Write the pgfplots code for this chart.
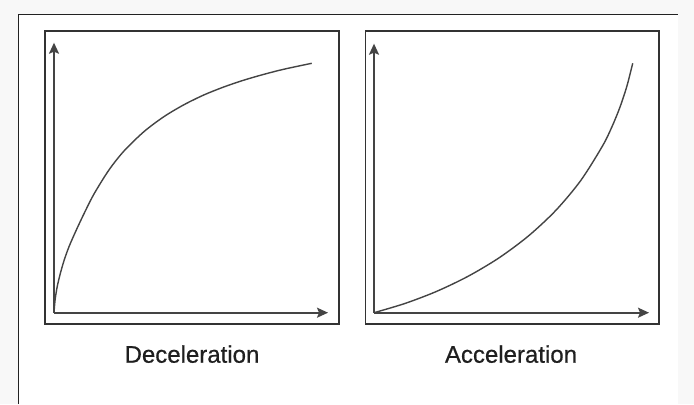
\documentclass[border=0pt]{standalone}
\usepackage{pgfplots}
\pgfplotsset{compat=1.18}
\usepackage{fontspec}
\setmainfont{Liberation Sans}
\newfontfamily\lblfont{Liberation Sans}[FakeBold=0.6]
\usetikzlibrary{arrows.meta}
\definecolor{bg}{HTML}{F8F8F8}
\definecolor{frame}{HTML}{222222}
\definecolor{boxc}{HTML}{333333}
\definecolor{axc}{HTML}{444444}
\definecolor{curvec}{HTML}{444444}
\pgfplotstableread{
x y
0 0
1 12
3 25
6 38
10 52
15 66
22 82
30 99
40 118.7
55 142.8
70 161.7
90 181.1
110 196.1
130 208.0
150 217.8
170 225.8
190 232.6
210 238.4
230 243.5
257.7 249.4
}\decel
\pgfplotstableread{
x y
0 0
30.63 9.13
62.07 21.1
93.61 36.16
124.56 54.55
154.2 76.55
181.88 102.4
206.86 132.35
228.45 166.67
237.76 185.54
245.97 205.6
252.97 226.88
258.7 249.4
}\accel
\pgfplotsset{
  sketch/.style={
    scale only axis,
    anchor=south west,
    axis lines=left,
    xmin=0, ymin=0,
    xtick=\empty, ytick=\empty,
    clip=false,
    axis line style={draw=axc, line width=1.6bp, -{Stealth[length=11bp,width=10bp,inset=2bp]}},
  }
}
\begin{document}
\begin{tikzpicture}[x=1bp,y=1bp]
\useasboundingbox (0,0) rectangle (694,404);
\fill[bg] (0,0) rectangle (694,404);
\fill[white] (18.3,0) rectangle (677.7,389.7);
\draw[frame, line width=1.5bp] (18.3,0) -- (18.3,389.7) -- (677.7,389.7);
\draw[boxc, line width=1.5bp] (45,80) rectangle (339,373);
\draw[boxc, line width=1.5bp] (365.3,80) rectangle (659,373);
\begin{axis}[sketch, at={(54bp,91.3bp)}, width=274bp, height=270bp, xmax=274, ymax=270]
\addplot[curvec, line width=1.4bp, smooth, no marks] table[x=x,y=y] {\decel};
\end{axis}
\begin{axis}[sketch, at={(374bp,91.3bp)}, width=275bp, height=269bp, xmax=275, ymax=269]
\addplot[curvec, line width=1.4bp, smooth, no marks] table[x=x,y=y] {\accel};
\end{axis}
\node[anchor=base, font=\lblfont\fontsize{24bp}{28bp}\selectfont, text=black!88] at (192,41.3) {Deceleration};
\node[anchor=base, font=\lblfont\fontsize{24bp}{28bp}\selectfont, text=black!88] at (511,41.3) {Acceleration};
\end{tikzpicture}
\end{document}
